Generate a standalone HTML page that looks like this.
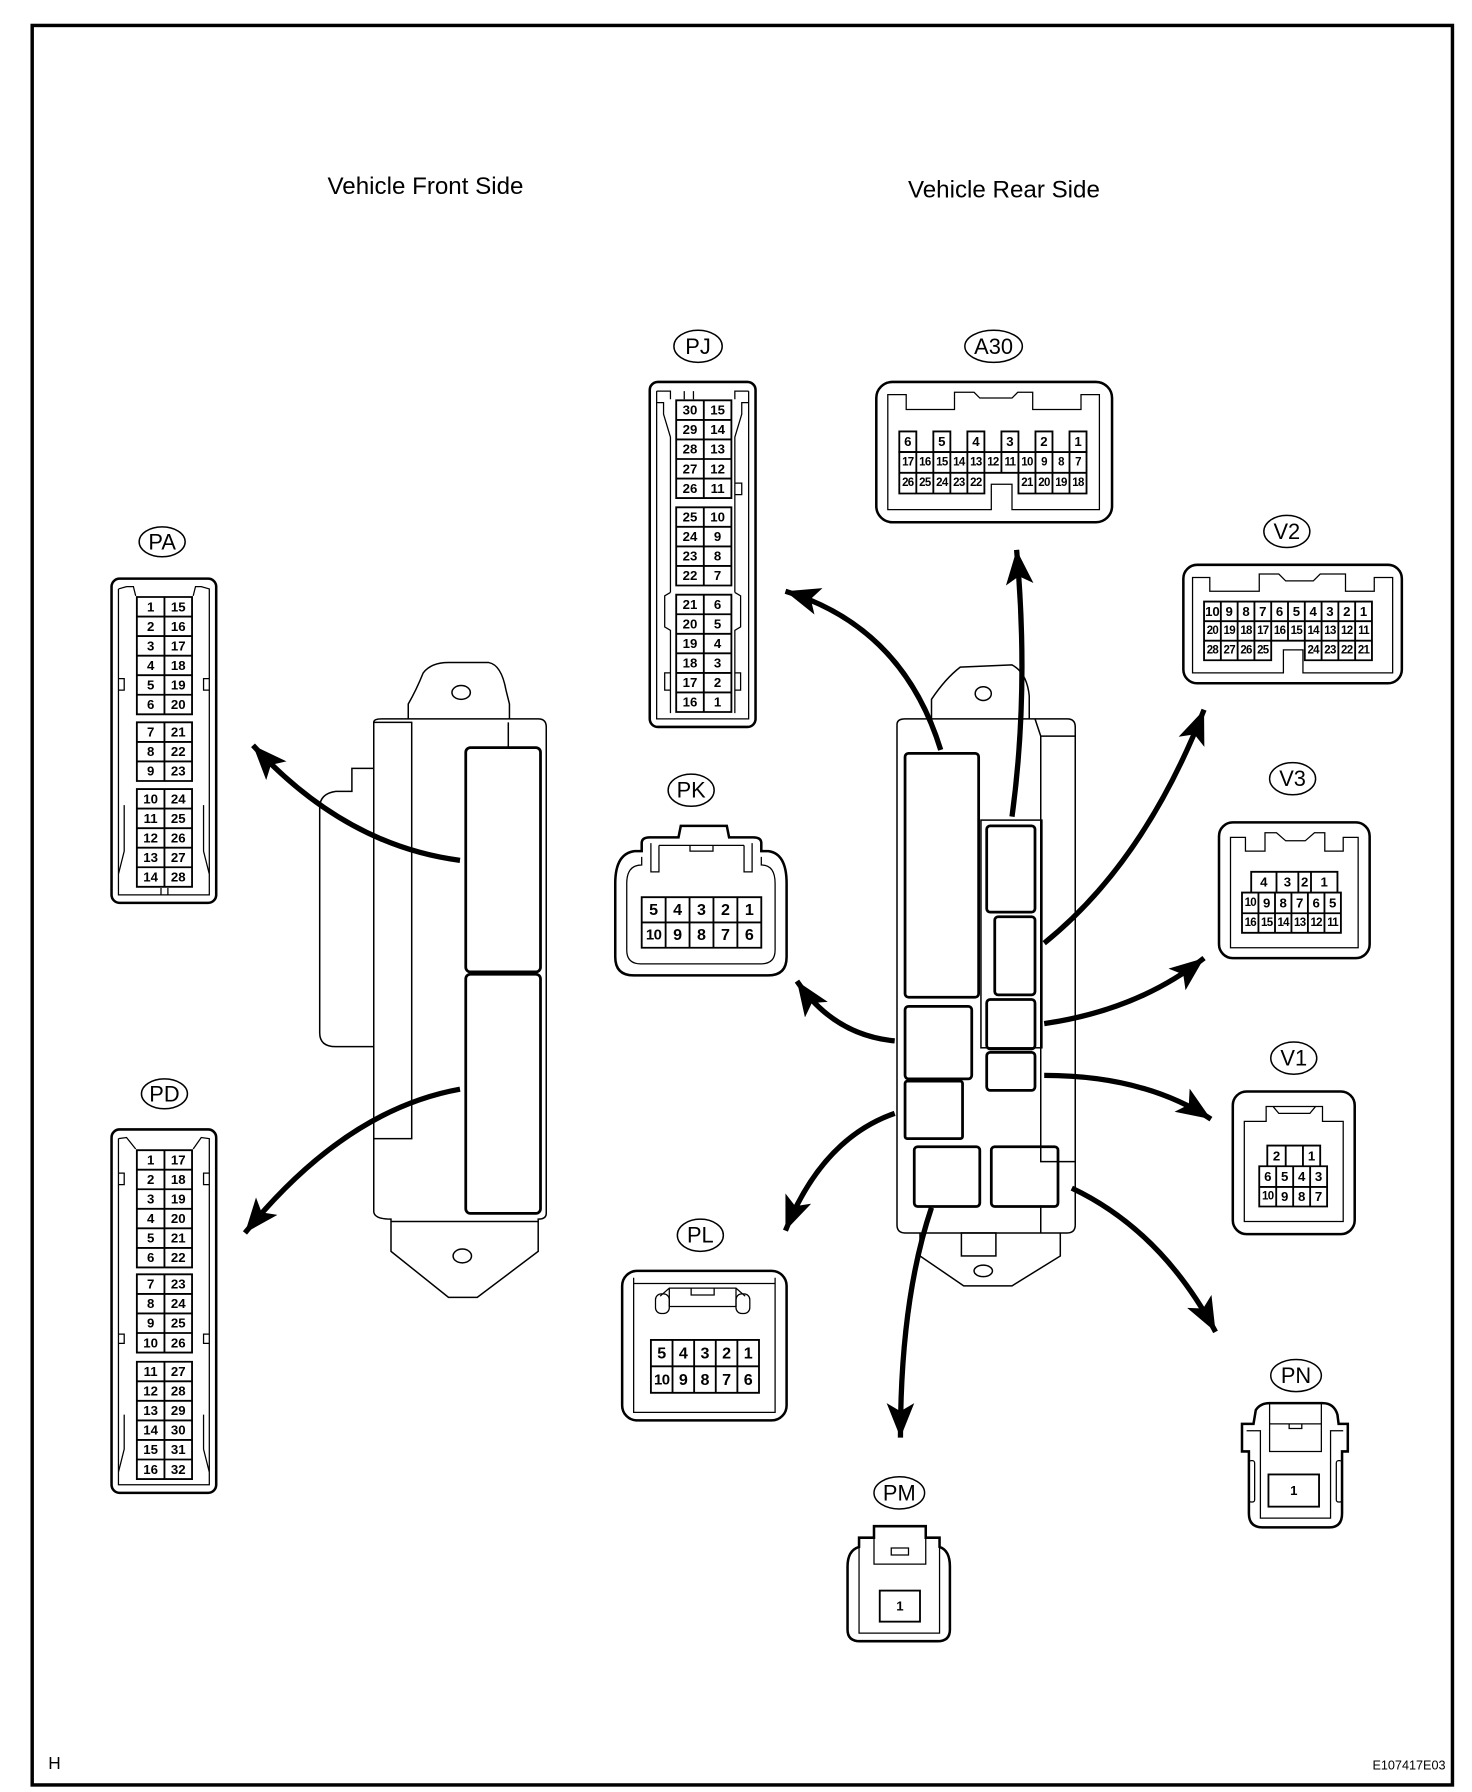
<!DOCTYPE html>
<html><head><meta charset="utf-8"><style>
html,body{margin:0;padding:0;background:#fff;}
svg{display:block;}
text{font-family:"Liberation Sans",Arial,sans-serif;fill:#000;}
.p{font-size:11.5px;font-weight:bold;text-anchor:middle;dominant-baseline:central;}
.s{font-size:10px;font-weight:bold;text-anchor:middle;dominant-baseline:central;letter-spacing:-0.6px;}
.l{font-size:19px;text-anchor:middle;dominant-baseline:central;}
.o{fill:#fff;stroke:#000;stroke-width:2.2;}
.i{fill:none;stroke:#000;stroke-width:1.1;}
.g{fill:none;stroke:#000;stroke-width:1.6;}
.b{fill:none;stroke:#000;stroke-width:1.3;}
.t{fill:none;stroke:#000;stroke-width:2.4;}
.a{fill:none;stroke:#000;stroke-width:4.6;}
</style></head><body>
<svg width="1472" height="1792" viewBox="0 0 1280 1558" xmlns="http://www.w3.org/2000/svg">
<defs>
<marker id="ah" markerUnits="userSpaceOnUse" markerWidth="34" markerHeight="26" refX="30" refY="12" orient="auto">
<path d="M0,0 L30,12 L0,24 L7,12 Z" fill="#000"/>
</marker>
</defs>
<rect x="28" y="22" width="1235" height="1530" fill="none" stroke="#000" stroke-width="3"/>
<text x="370" y="162" style="font-size:21px;text-anchor:middle;dominant-baseline:central">Vehicle Front Side</text>
<text x="873" y="165" style="font-size:21px;text-anchor:middle;dominant-baseline:central">Vehicle Rear Side</text>
<text x="42" y="1533" style="font-size:15px;dominant-baseline:central">H</text>
<text x="1257" y="1535" style="font-size:11px;text-anchor:end;dominant-baseline:central">E107417E03</text>

<!-- LEFT ECU -->
<path class="b" d="M355,625 L355,612 Q362,600 368,585 Q375,576 390,576 L425,576 Q436,578 440,600 L443,612 L443,625"/>
<ellipse class="b" cx="401" cy="602" rx="8" ry="6"/>
<path class="b" d="M325,628 Q325,625 332,625 L468,625 Q475,625 475,632 L475,1055 Q475,1060 468,1060 L468,1088 L415,1128 L390,1128 L340,1088 L340,1060 Q325,1060 325,1053 Z"/>
<path class="b" d="M340,1062 L468,1062"/>
<ellipse class="b" cx="402" cy="1092" rx="8" ry="6"/>
<rect class="b" x="325" y="628" width="33" height="362"/>
<path class="b" d="M442,650 L442,628"/>
<path class="b" d="M325,668 L306,668 L306,688 L292,688 Q278,690 278,702 L278,898 Q278,910 292,910 L325,910"/>
<rect class="t" x="405" y="650" width="65" height="195" rx="4"/>
<rect class="t" x="405" y="847" width="65" height="208" rx="4"/>

<!-- RIGHT ECU -->
<path class="b" d="M810,625 L810,608 Q822,590 835,580 L880,578 Q893,585 895,605 L895,625"/>
<ellipse class="b" cx="855" cy="603" rx="7" ry="6"/>
<path class="b" d="M780,630 Q780,625 787,625 L928,625 Q935,625 935,632 L935,1065 Q935,1072 928,1072 L787,1072 Q780,1072 780,1065 Z"/>
<path class="b" d="M900,625 L905,640 L935,640 M905,640 L905,1010 L935,1010 M905,1048 L905,1072"/>
<path class="b" d="M800,1072 L800,1092 L838,1118 L880,1118 L922,1092 L922,1072"/>
<rect class="b" x="836" y="1072" width="30" height="20"/>
<ellipse class="b" cx="855" cy="1105" rx="8" ry="5"/>
<rect class="t" x="787" y="655" width="64" height="212" rx="3"/>
<rect class="t" x="787" y="875" width="58" height="63" rx="3"/>
<rect class="t" x="787" y="940" width="50" height="50" rx="2"/>
<rect class="t" x="795" y="997" width="57" height="52" rx="3"/>
<rect class="t" x="862" y="997" width="58" height="52" rx="3"/>
<rect class="b" x="853" y="713" width="53" height="198"/>
<rect class="t" x="858" y="718" width="42" height="75" rx="3"/>
<rect class="t" x="865" y="797" width="35" height="68" rx="3"/>
<rect class="t" x="858" y="869" width="42" height="43" rx="3"/>
<rect class="t" x="858" y="915" width="42" height="33" rx="3"/>

<!-- ARROWS -->
<path class="a" marker-end="url(#ah)" d="M400,748 Q300,735 220,648"/>
<path class="a" marker-end="url(#ah)" d="M400,947 Q300,965 213,1072"/>
<path class="a" marker-end="url(#ah)" d="M818,652 Q785,545 683,514"/>
<path class="a" marker-end="url(#ah)" d="M880,710 Q895,600 884,478"/>
<path class="a" marker-end="url(#ah)" d="M908,820 Q995,750 1047,617"/>
<path class="a" marker-end="url(#ah)" d="M908,890 Q990,878 1047,833"/>
<path class="a" marker-end="url(#ah)" d="M908,935 Q995,935 1053,973"/>
<path class="a" marker-end="url(#ah)" d="M932,1033 Q1010,1070 1057,1158"/>
<path class="a" marker-end="url(#ah)" d="M778,905 Q725,900 693,853"/>
<path class="a" marker-end="url(#ah)" d="M778,968 Q715,990 683,1070"/>
<path class="a" marker-end="url(#ah)" d="M810,1050 Q783,1130 783,1250"/>

<!-- PA -->
<ellipse class="b" cx="141" cy="471" rx="20" ry="13"/><text class="l" x="141" y="471">PA</text>
<rect class="o" x="97" y="503" width="91" height="282" rx="7"/>
<path class="i" d="M103,512 L103,778 L182,778 L182,512 L175,510 L170,510 L168,518 M103,512 L110,510 L116,510 L118,518 M103,590 L108,590 L108,600 L103,600 M182,590 L177,590 L177,600 L182,600 M108,700 L108,740 L103,760 M177,700 L177,740 L182,760 M140,772 L140,778 M146,772 L146,778"/>
<path class="g" d="M119,519 H167 V621 H119 Z M143,519 V621 M119,536 H167 M119,553 H167 M119,570 H167 M119,587 H167 M119,604 H167"/>
<path class="g" d="M119,628 H167 V679 H119 Z M143,628 V679 M119,645 H167 M119,662 H167"/>
<path class="g" d="M119,686 H167 V771 H119 Z M143,686 V771 M119,703 H167 M119,720 H167 M119,737 H167 M119,754 H167"/>
<text class="p" x="131" y="527.5">1</text><text class="p" x="155" y="527.5">15</text>
<text class="p" x="131" y="544.5">2</text><text class="p" x="155" y="544.5">16</text>
<text class="p" x="131" y="561.5">3</text><text class="p" x="155" y="561.5">17</text>
<text class="p" x="131" y="578.5">4</text><text class="p" x="155" y="578.5">18</text>
<text class="p" x="131" y="595.5">5</text><text class="p" x="155" y="595.5">19</text>
<text class="p" x="131" y="612.5">6</text><text class="p" x="155" y="612.5">20</text>
<text class="p" x="131" y="636.5">7</text><text class="p" x="155" y="636.5">21</text>
<text class="p" x="131" y="653.5">8</text><text class="p" x="155" y="653.5">22</text>
<text class="p" x="131" y="670.5">9</text><text class="p" x="155" y="670.5">23</text>
<text class="p" x="131" y="694.5">10</text><text class="p" x="155" y="694.5">24</text>
<text class="p" x="131" y="711.5">11</text><text class="p" x="155" y="711.5">25</text>
<text class="p" x="131" y="728.5">12</text><text class="p" x="155" y="728.5">26</text>
<text class="p" x="131" y="745.5">13</text><text class="p" x="155" y="745.5">27</text>
<text class="p" x="131" y="762.5">14</text><text class="p" x="155" y="762.5">28</text>

<!-- PD -->
<ellipse class="b" cx="143" cy="951" rx="20" ry="13"/><text class="l" x="143" y="951">PD</text>
<rect class="o" x="97" y="982" width="91" height="316" rx="7"/>
<path class="i" d="M103,990 L103,1291 L182,1291 L182,990 L175,989 L168,999 M103,990 L110,989 L118,999 M103,1020 L108,1020 L108,1030 L103,1030 M182,1020 L177,1020 L177,1030 L182,1030 M103,1160 L108,1160 L108,1168 L103,1168 M182,1160 L177,1160 L177,1168 L182,1168 M108,1230 L108,1260 L103,1280 M177,1230 L177,1260 L182,1280"/>
<path class="g" d="M119,1000 H167 V1102 H119 Z M143,1000 V1102 M119,1017 H167 M119,1034 H167 M119,1051 H167 M119,1068 H167 M119,1085 H167"/>
<path class="g" d="M119,1108 H167 V1176 H119 Z M143,1108 V1176 M119,1125 H167 M119,1142 H167 M119,1159 H167"/>
<path class="g" d="M119,1184 H167 V1286 H119 Z M143,1184 V1286 M119,1201 H167 M119,1218 H167 M119,1235 H167 M119,1252 H167 M119,1269 H167"/>
<text class="p" x="131" y="1008.5">1</text><text class="p" x="155" y="1008.5">17</text>
<text class="p" x="131" y="1025.5">2</text><text class="p" x="155" y="1025.5">18</text>
<text class="p" x="131" y="1042.5">3</text><text class="p" x="155" y="1042.5">19</text>
<text class="p" x="131" y="1059.5">4</text><text class="p" x="155" y="1059.5">20</text>
<text class="p" x="131" y="1076.5">5</text><text class="p" x="155" y="1076.5">21</text>
<text class="p" x="131" y="1093.5">6</text><text class="p" x="155" y="1093.5">22</text>
<text class="p" x="131" y="1116.5">7</text><text class="p" x="155" y="1116.5">23</text>
<text class="p" x="131" y="1133.5">8</text><text class="p" x="155" y="1133.5">24</text>
<text class="p" x="131" y="1150.5">9</text><text class="p" x="155" y="1150.5">25</text>
<text class="p" x="131" y="1167.5">10</text><text class="p" x="155" y="1167.5">26</text>
<text class="p" x="131" y="1192.5">11</text><text class="p" x="155" y="1192.5">27</text>
<text class="p" x="131" y="1209.5">12</text><text class="p" x="155" y="1209.5">28</text>
<text class="p" x="131" y="1226.5">13</text><text class="p" x="155" y="1226.5">29</text>
<text class="p" x="131" y="1243.5">14</text><text class="p" x="155" y="1243.5">30</text>
<text class="p" x="131" y="1260.5">15</text><text class="p" x="155" y="1260.5">31</text>
<text class="p" x="131" y="1277.5">16</text><text class="p" x="155" y="1277.5">32</text>

<!-- PJ -->
<ellipse class="b" cx="607" cy="301" rx="21" ry="14"/><text class="l" x="607" y="301">PJ</text>
<rect class="o" x="565" y="332" width="92" height="300" rx="7"/>
<path class="i" d="M571,340 L571,625 L651,625 L651,340 M571,340 L583,340 L583,347 M651,340 L639,340 L639,347 M571,350 L577,350 L577,360 L583,380 L583,515 M651,350 L645,350 L645,360 L639,380 L639,515 M639,420 L645,420 L645,430 L639,430 M583,515 L578,518 L578,545 L583,548 L583,620 M639,515 L644,518 L644,545 L639,548 L639,620 M583,585 L578,585 L578,600 L583,600 M639,585 L644,585 L644,600 L639,600 M595,340 L595,347 M603,340 L603,347"/>
<path class="g" d="M588,348 H636 V433 H588 Z M612,348 V433 M588,365 H636 M588,382 H636 M588,399 H636 M588,416 H636"/>
<path class="g" d="M588,441 H636 V509 H588 Z M612,441 V509 M588,458 H636 M588,475 H636 M588,492 H636"/>
<path class="g" d="M588,517 H636 V619 H588 Z M612,517 V619 M588,534 H636 M588,551 H636 M588,568 H636 M588,585 H636 M588,602 H636"/>
<text class="p" x="600" y="356.5">30</text><text class="p" x="624" y="356.5">15</text>
<text class="p" x="600" y="373.5">29</text><text class="p" x="624" y="373.5">14</text>
<text class="p" x="600" y="390.5">28</text><text class="p" x="624" y="390.5">13</text>
<text class="p" x="600" y="407.5">27</text><text class="p" x="624" y="407.5">12</text>
<text class="p" x="600" y="424.5">26</text><text class="p" x="624" y="424.5">11</text>
<text class="p" x="600" y="449.5">25</text><text class="p" x="624" y="449.5">10</text>
<text class="p" x="600" y="466.5">24</text><text class="p" x="624" y="466.5">9</text>
<text class="p" x="600" y="483.5">23</text><text class="p" x="624" y="483.5">8</text>
<text class="p" x="600" y="500.5">22</text><text class="p" x="624" y="500.5">7</text>
<text class="p" x="600" y="525.5">21</text><text class="p" x="624" y="525.5">6</text>
<text class="p" x="600" y="542.5">20</text><text class="p" x="624" y="542.5">5</text>
<text class="p" x="600" y="559.5">19</text><text class="p" x="624" y="559.5">4</text>
<text class="p" x="600" y="576.5">18</text><text class="p" x="624" y="576.5">3</text>
<text class="p" x="600" y="593.5">17</text><text class="p" x="624" y="593.5">2</text>
<text class="p" x="600" y="610.5">16</text><text class="p" x="624" y="610.5">1</text>

<!-- A30 -->
<ellipse class="b" cx="864" cy="301" rx="25" ry="14"/><text class="l" x="864" y="301">A30</text>
<rect class="o" x="762" y="332" width="205" height="122" rx="14"/>
<path class="i" d="M772,343 L788,343 L788,356 L830,356 L830,341 L847,341 L852,346 L880,346 L885,341 L898,341 L898,356 L940,356 L940,343 L956,343 L956,443 L880,443 L880,421 L862,421 L862,443 L772,443 Z"/>
<path class="g" d="M782,375 h14.8 v18 h-14.8 Z M811.6,375 h14.8 v18 h-14.8 Z M841.2,375 h14.8 v18 h-14.8 Z M870.8,375 h14.8 v18 h-14.8 Z M900.4,375 h14.8 v18 h-14.8 Z M930,375 h14.8 v18 h-14.8 Z"/>
<path class="g" d="M782,393 H944.8 V411 H782 Z M782,411 H856 V429 H782 Z M885.6,411 H944.8 V429 H885.6 Z M796.8,393 V429 M811.6,393 V429 M826.4,393 V429 M841.2,393 V429 M856,393 V411 M870.8,393 V411 M885.6,393 V411 M900.4,393 V429 M915.2,393 V429 M930,393 V429"/>
<text class="p" x="789.4" y="384">6</text><text class="p" x="819" y="384">5</text><text class="p" x="848.6" y="384">4</text><text class="p" x="878.2" y="384">3</text><text class="p" x="907.8" y="384">2</text><text class="p" x="937.4" y="384">1</text>
<text class="s" x="789.4" y="402">17</text><text class="s" x="804.2" y="402">16</text><text class="s" x="819" y="402">15</text><text class="s" x="833.8" y="402">14</text><text class="s" x="848.6" y="402">13</text><text class="s" x="863.4" y="402">12</text><text class="s" x="878.2" y="402">11</text><text class="s" x="893" y="402">10</text><text class="s" x="907.8" y="402">9</text><text class="s" x="922.6" y="402">8</text><text class="s" x="937.4" y="402">7</text>
<text class="s" x="789.4" y="420">26</text><text class="s" x="804.2" y="420">25</text><text class="s" x="819" y="420">24</text><text class="s" x="833.8" y="420">23</text><text class="s" x="848.6" y="420">22</text><text class="s" x="893" y="420">21</text><text class="s" x="907.8" y="420">20</text><text class="s" x="922.6" y="420">19</text><text class="s" x="937.4" y="420">18</text>

<!-- V2 -->
<ellipse class="b" cx="1119" cy="462" rx="20" ry="14"/><text class="l" x="1119" y="462">V2</text>
<rect class="o" x="1029" y="491" width="190" height="103" rx="12"/>
<path class="i" d="M1037,502 L1052,502 L1052,514 L1095,514 L1095,499 L1112,499 L1118,505 L1142,505 L1148,499 L1170,499 L1170,514 L1195,514 L1195,502 L1211,502 L1211,585 L1133,585 L1133,565 L1116,565 L1116,585 L1037,585 Z"/>
<path class="g" d="M1047,523 H1193 V557 H1047 Z M1047,540 H1193 M1047,557 H1105.4 V574 H1047 Z M1134.6,557 H1193 V574 H1134.6 Z M1061.6,523 V574 M1076.2,523 V574 M1090.8,523 V574 M1105.4,523 V557 M1120,523 V557 M1134.6,523 V557 M1149.2,523 V574 M1163.8,523 V574 M1178.4,523 V574"/>
<text class="p" x="1054.3" y="531.5">10</text><text class="p" x="1068.9" y="531.5">9</text><text class="p" x="1083.5" y="531.5">8</text><text class="p" x="1098.1" y="531.5">7</text><text class="p" x="1112.7" y="531.5">6</text><text class="p" x="1127.3" y="531.5">5</text><text class="p" x="1141.9" y="531.5">4</text><text class="p" x="1156.5" y="531.5">3</text><text class="p" x="1171.1" y="531.5">2</text><text class="p" x="1185.7" y="531.5">1</text>
<text class="s" x="1054.3" y="548.5">20</text><text class="s" x="1068.9" y="548.5">19</text><text class="s" x="1083.5" y="548.5">18</text><text class="s" x="1098.1" y="548.5">17</text><text class="s" x="1112.7" y="548.5">16</text><text class="s" x="1127.3" y="548.5">15</text><text class="s" x="1141.9" y="548.5">14</text><text class="s" x="1156.5" y="548.5">13</text><text class="s" x="1171.1" y="548.5">12</text><text class="s" x="1185.7" y="548.5">11</text>
<text class="s" x="1054.3" y="565.5">28</text><text class="s" x="1068.9" y="565.5">27</text><text class="s" x="1083.5" y="565.5">26</text><text class="s" x="1098.1" y="565.5">25</text><text class="s" x="1141.9" y="565.5">24</text><text class="s" x="1156.5" y="565.5">23</text><text class="s" x="1171.1" y="565.5">22</text><text class="s" x="1185.7" y="565.5">21</text>

<!-- V3 -->
<ellipse class="b" cx="1124" cy="677" rx="20" ry="14"/><text class="l" x="1124" y="677">V3</text>
<rect class="o" x="1060" y="715" width="131" height="118" rx="12"/>
<path class="i" d="M1070,728 L1083,728 L1083,740 L1100,740 L1100,724 L1110,724 L1118,731 L1135,731 L1143,724 L1152,724 L1152,740 L1168,740 L1168,728 L1181,728 L1181,824 L1070,824 Z"/>
<path class="g" d="M1088,758 H1163 V776 H1088 Z M1110,758 V776 M1129,758 V776 M1140,758 V776 M1080,776 H1166 V811 H1080 Z M1080,794 H1166 M1094.3,776 V811 M1108.7,776 V811 M1123,776 V811 M1137.3,776 V811 M1151.7,776 V811"/>
<text class="p" x="1099" y="767">4</text><text class="p" x="1119.5" y="767">3</text><text class="p" x="1134.5" y="767">2</text><text class="p" x="1151.5" y="767">1</text>
<text class="s" x="1087.2" y="785">10</text><text class="p" x="1101.5" y="785">9</text><text class="p" x="1115.8" y="785">8</text><text class="p" x="1130.2" y="785">7</text><text class="p" x="1144.5" y="785">6</text><text class="p" x="1158.8" y="785">5</text>
<text class="s" x="1087.2" y="802.5">16</text><text class="s" x="1101.5" y="802.5">15</text><text class="s" x="1115.8" y="802.5">14</text><text class="s" x="1130.2" y="802.5">13</text><text class="s" x="1144.5" y="802.5">12</text><text class="s" x="1158.8" y="802.5">11</text>

<!-- V1 -->
<ellipse class="b" cx="1125" cy="920" rx="20" ry="14"/><text class="l" x="1125" y="920">V1</text>
<rect class="o" x="1072" y="949" width="106" height="124" rx="12"/>
<path class="i" d="M1082,975 L1101,975 L1101,962 L1150,962 L1150,975 L1168,975 L1168,1062 L1082,1062 Z M1107,962 L1112,968 L1139,968 L1144,962"/>
<path class="g" d="M1102,996 H1148 V1014 H1102 Z M1118,996 V1014 M1133,996 V1014 M1095,1014 H1154 V1049 H1095 Z M1095,1032 H1154 M1109.75,1014 V1049 M1124.5,1014 V1049 M1139.25,1014 V1049"/>
<text class="p" x="1110" y="1005">2</text><text class="p" x="1140.5" y="1005">1</text>
<text class="p" x="1102.4" y="1023">6</text><text class="p" x="1117.1" y="1023">5</text><text class="p" x="1131.9" y="1023">4</text><text class="p" x="1146.6" y="1023">3</text>
<text class="s" x="1102.4" y="1040.5">10</text><text class="p" x="1117.1" y="1040.5">9</text><text class="p" x="1131.9" y="1040.5">8</text><text class="p" x="1146.6" y="1040.5">7</text>

<!-- PK -->
<ellipse class="b" cx="601" cy="687" rx="20" ry="14"/><text class="l" x="601" y="687">PK</text>
<path class="o" d="M535,768 Q535,742 552,740 L558,740 L558,733 Q558,728 565,728 L590,728 L592,718 L632,718 L634,728 L655,728 Q662,728 662,733 L662,740 L668,740 Q684,742 684,768 L684,832 Q684,848 668,848 L551,848 Q535,848 535,832 Z"/>
<path class="i" d="M558,745 L558,752 Q545,752 545,768 L545,826 Q545,838 557,838 L662,838 Q674,838 674,826 L674,768 Q674,752 662,752 L662,745 M566,733 L566,758 L573,758 L573,735 M654,733 L654,758 L647,758 L647,735 M573,735 L647,735 M600,735 L600,740 L620,740 L620,735"/>
<path class="g" d="M558,780 H662 V824 H558 Z M558,802 H662 M578.8,780 V824 M599.6,780 V824 M620.4,780 V824 M641.2,780 V824"/>
<text class="p" x="568.4" y="791" style="font-size:14px">5</text><text class="p" x="589.2" y="791" style="font-size:14px">4</text><text class="p" x="610" y="791" style="font-size:14px">3</text><text class="p" x="630.8" y="791" style="font-size:14px">2</text><text class="p" x="651.6" y="791" style="font-size:14px">1</text>
<text class="p" x="568.4" y="813" style="font-size:13px;letter-spacing:-0.5px">10</text><text class="p" x="589.2" y="813" style="font-size:14px">9</text><text class="p" x="610" y="813" style="font-size:14px">8</text><text class="p" x="630.8" y="813" style="font-size:14px">7</text><text class="p" x="651.6" y="813" style="font-size:14px">6</text>

<!-- PL -->
<ellipse class="b" cx="609" cy="1074" rx="20" ry="14"/><text class="l" x="609" y="1074">PL</text>
<rect class="o" x="541" y="1105" width="143" height="130" rx="13"/>
<path class="i" d="M551,1111 L551,1228 L674,1228 L674,1111 M551,1116 L674,1116 M574,1127 L582,1120 L640,1120 L648,1127 M582,1120 L582,1136 L640,1136 L640,1120 M601,1120 L601,1126 L621,1126 L621,1120"/>
<rect class="i" x="570" y="1125" width="12" height="17" rx="5"/>
<rect class="i" x="640" y="1125" width="12" height="17" rx="5"/>
<path class="g" d="M566,1165 H660 V1211 H566 Z M566,1188 H660 M584.8,1165 V1211 M603.6,1165 V1211 M622.4,1165 V1211 M641.2,1165 V1211"/>
<text class="p" x="575.4" y="1177" style="font-size:14px">5</text><text class="p" x="594.2" y="1177" style="font-size:14px">4</text><text class="p" x="613" y="1177" style="font-size:14px">3</text><text class="p" x="631.8" y="1177" style="font-size:14px">2</text><text class="p" x="650.6" y="1177" style="font-size:14px">1</text>
<text class="p" x="575.4" y="1200" style="font-size:13px;letter-spacing:-0.5px">10</text><text class="p" x="594.2" y="1200" style="font-size:14px">9</text><text class="p" x="613" y="1200" style="font-size:14px">8</text><text class="p" x="631.8" y="1200" style="font-size:14px">7</text><text class="p" x="650.6" y="1200" style="font-size:14px">6</text>

<!-- PM -->
<ellipse class="b" cx="782" cy="1298" rx="22" ry="14"/><text class="l" x="782" y="1298">PM</text>
<path class="o" d="M747,1345 L747,1337 L760,1337 L760,1327 L805,1327 L805,1337 L817,1337 L817,1345 Q826,1348 826,1362 L826,1417 Q826,1427 815,1427 L748,1427 Q737,1427 737,1417 L737,1362 Q737,1348 747,1345 Z"/>
<path class="i" d="M747,1345 L747,1420 L817,1420 L817,1345 M760,1337 L760,1360 L805,1360 L805,1337 M775,1346 L790,1346 L790,1352 L775,1352 Z"/>
<rect class="g" x="765" y="1383" width="35" height="27"/>
<text class="p" x="782.5" y="1396.5">1</text>

<!-- PN -->
<ellipse class="b" cx="1127" cy="1196" rx="22" ry="14"/><text class="l" x="1127" y="1196">PN</text>
<path class="o" d="M1092,1226 Q1096,1220 1104,1220 L1150,1220 Q1160,1220 1163,1230 L1164,1238 L1172,1238 L1172,1262 L1167,1262 L1167,1316 Q1167,1328 1156,1328 L1098,1328 Q1086,1328 1086,1316 L1086,1262 L1080,1262 L1080,1238 L1090,1238 Z"/>
<path class="i" d="M1084,1244 L1096,1244 L1096,1255 M1168,1244 L1157,1244 L1157,1255 M1096,1255 L1096,1320 L1157,1320 L1157,1255 M1104,1220 L1104,1262 L1149,1262 L1149,1220 M1104,1238 L1149,1238 M1121,1238 L1121,1242 L1132,1242 L1132,1238"/>
<rect class="i" x="1086" y="1270" width="5" height="36" rx="2"/>
<rect class="i" x="1162" y="1270" width="5" height="36" rx="2"/>
<rect class="g" x="1103" y="1282" width="44" height="28"/>
<text class="p" x="1125" y="1296">1</text>
</svg>
</body></html>
